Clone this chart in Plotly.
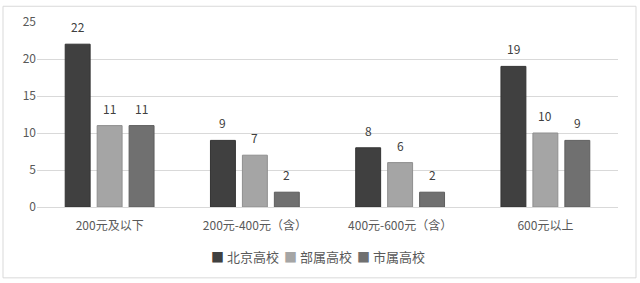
import plotly.graph_objects as go

categories = ["200元及以下", "200元-400元（含）", "400元-600元（含）", "600元以上"]
series_names = ["北京高校", "部属高校", "市属高校"]
beijing = [22, 9, 8, 19]
bushu = [11, 7, 6, 10]
shishu = [11, 2, 2, 9]
colors = ["#404040", "#a5a5a5", "#707070"]
line_colors = ["#333333", "#8f8f8f", "#5e5e5e"]
slot_shift = [-32, 0, 32]
legend_x_px = [209, 282, 355]

L, R, T, B = 37, 22, 19, 76
W, H = 640, 283
pw, ph = W - L - R, H - T - B

font_family = "Noto Sans CJK SC, Noto Sans, sans-serif"
fig = go.Figure()
annotations = []
for name, vals, c, lc, dx, lx in zip(series_names, [beijing, bushu, shishu], colors, line_colors, slot_shift, legend_x_px):
    fig.add_trace(go.Bar(
        x=categories, y=vals, name=name,
        marker=dict(color=c, line=dict(color=lc, width=1)),
    ))
    for cat, v in zip(categories, vals):
        annotations.append(dict(x=cat, y=v, text=str(v), showarrow=False,
                                xshift=dx, yshift=7, yanchor="bottom",
                                font=dict(size=12, color="#404040")))
    annotations.append(dict(
        xref="paper", yref="paper", x=(lx - L) / pw, y=(T + ph - 257) / ph,
        xanchor="left", yanchor="middle", showarrow=False,
        text=f"<span style='color:{c}'>■</span> {name}",
        font=dict(size=13, color="#595959")))

fig.update_layout(
    width=W, height=H,
    margin=dict(l=L, r=R, t=T, b=B),
    paper_bgcolor="white", plot_bgcolor="white",
    font=dict(family=font_family, size=12, color="#595959"),
    barmode="group", bargap=0.34, bargroupgap=0.22,
    showlegend=False,
    xaxis=dict(showgrid=False, showline=False, ticks="", ticklabelstandoff=10,
               tickfont=dict(size=12, color="#595959")),
    yaxis=dict(range=[0, 25], dtick=5, showgrid=True, gridcolor="#d9d9d9", gridwidth=1,
               zeroline=True, zerolinecolor="#d9d9d9", zerolinewidth=1,
               showline=False, ticks="", ticklen=0, tickfont=dict(size=12, color="#595959")),
    annotations=annotations,
    shapes=[dict(type="rect", xref="paper", yref="paper",
                 x0=(3 - L) / pw, x1=(636 - L) / pw, y0=(T + ph - 279) / ph, y1=(T + ph - 3) / ph,
                 line=dict(color="#d9d9d9", width=1), fillcolor="rgba(0,0,0,0)", layer="below")],
)
fig.write_html("out.html")
